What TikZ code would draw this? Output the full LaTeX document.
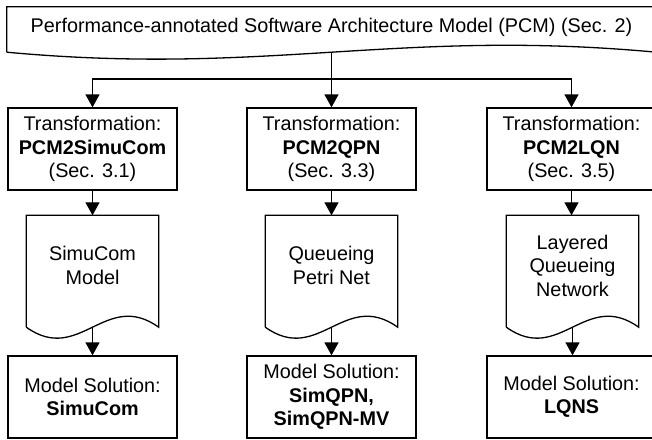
\documentclass[tikz,border=0pt]{standalone}
\usepackage{fontspec}
\setmainfont{Liberation Sans}
\usetikzlibrary{arrows.meta,calc}
\tikzset{
  every node/.style={font=\fontsize{19.8}{23.5}\selectfont, inner sep=0pt, align=center},
  ln/.style={line width=1.3pt},
  arr/.style={ln, -{Triangle[length=13pt,width=14pt]}},
  stepbox/.style={draw, ln, minimum width=169pt, minimum height=82pt},
  docnode/.style={minimum width=132pt, minimum height=100pt},
}
% #1 node, #2 side extension below node, #3 half-width offset of controls, #4 wave depth
\newcommand\docoutline[4]{%
  \draw[ln] ([yshift=-#2]#1.south west) -- (#1.north west) -- (#1.north east) --
    ([yshift=-#2]#1.south east)
    .. controls ([xshift=#3, yshift=-#2+#4]#1.south) and ([xshift=-#3, yshift=-#2-#4]#1.south) ..
    ([yshift=-#2]#1.south west);}
\begin{document}
\begin{tikzpicture}[x=1pt,y={(0pt,-1pt)}]
\useasboundingbox (0,0) rectangle (652,439);
\clip (0,0) rectangle (652,439);

% top document
\node[minimum width=649pt, minimum height=40pt] (top) at (331.5,27)
  {Performance-annotated Software Architecture Model (PCM) (Sec. 2)};
\docoutline{top}{5pt}{65pt}{24pt}

% transformation boxes
\node[stepbox] (t1) at (92.5,149) {Transformation:\\\textbf{PCM2SimuCom}\\(Sec. 3.1)};
\node[stepbox] (t2) at (331.5,149) {Transformation:\\\textbf{PCM2QPN}\\(Sec. 3.3)};
\node[stepbox] (t3) at (571.5,149) {Transformation:\\\textbf{PCM2LQN}\\(Sec. 3.5)};

% model documents
\node[docnode] (d1) at (92.5,265.5) {SimuCom\\Model};
\node[docnode] (d2) at (331.5,265.5) {Queueing\\Petri Net};
\node[docnode] (d3) at (572.5,265.5) {Layered\\Queueing\\Network};
\docoutline{d1}{11.5pt}{13pt}{38pt}
\docoutline{d2}{11.5pt}{13pt}{38pt}
\docoutline{d3}{11.5pt}{13pt}{38pt}

% solution boxes
\node[stepbox] (b1) at (92.5,397) {Model Solution:\\\textbf{SimuCom}};
\node[stepbox] (b2) at (331.5,397) {Model Solution:\\\textbf{SimQPN,}\\\textbf{SimQPN-MV}};
\node[stepbox] (b3) at (571.5,397) {Model Solution:\\\textbf{LQNS}};

% connectors
\coordinate (split) at (331.5,79);
\draw[arr] ([yshift=-5pt]top.south) -- (t2.north);
\draw[arr] (split) -| (t1.north);
\draw[arr] (split) -| (t3.north);

\draw[arr] (t1.south) -- (d1.north);
\draw[arr] (t2.south) -- (d2.north);
\draw[arr] (t3.south) -- (t3.south |- d3.north);

\draw[arr] ([yshift=-11.5pt]d1.south) -- (b1.north);
\draw[arr] ([yshift=-11.5pt]d2.south) -- (b2.north);
\draw[arr] ([yshift=-11.5pt]d3.south) -- (d3.south |- b3.north);
\end{tikzpicture}
\end{document}
